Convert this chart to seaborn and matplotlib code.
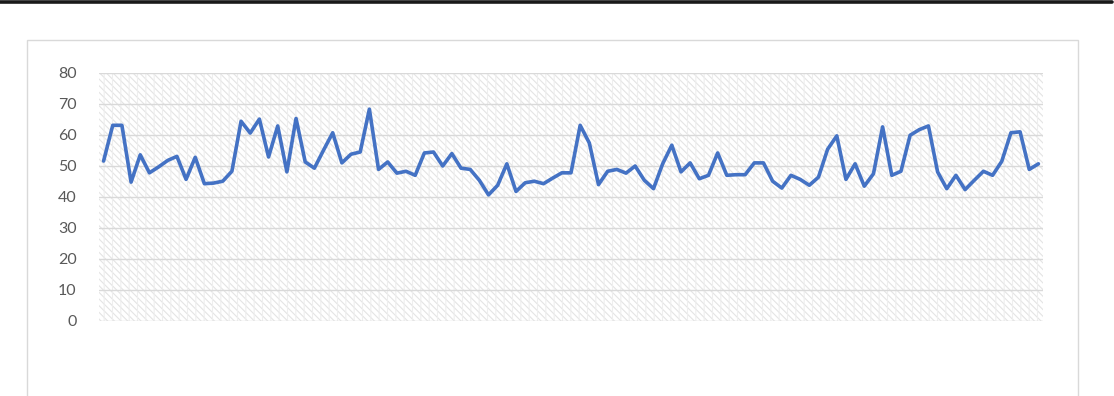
import matplotlib
matplotlib.use("Agg")
import matplotlib.pyplot as plt
import matplotlib.patches as mpatches
from matplotlib.lines import Line2D
import numpy as np
import pandas as pd
import seaborn as sns

# Series values, one per period
values = [
    51.5, 63.0, 63.0, 44.7, 53.5, 47.7, 49.6, 51.7, 53.0, 45.6,
    52.7, 44.2, 44.4, 45.0, 48.2, 64.3, 60.5, 65.0, 52.8, 62.8,
    48.0, 65.2, 51.2, 49.2, 55.0, 60.6, 50.9, 53.7, 54.4, 68.2,
    48.8, 51.2, 47.6, 48.2, 46.9, 54.1, 54.4, 49.9, 53.9, 49.2,
    48.8, 45.3, 40.6, 43.7, 50.6, 41.7, 44.5, 45.0, 44.2, 46.0,
    47.7, 47.7, 63.0, 57.3, 43.9, 48.2, 48.8, 47.6, 49.9, 45.3,
    42.6, 50.6, 56.6, 48.0, 50.9, 45.8, 46.9, 54.1, 46.9, 47.1,
    47.1, 50.9, 50.9, 45.0, 42.8, 46.9, 45.6, 43.7, 46.3, 55.3,
    59.6, 45.6, 50.6, 43.4, 47.4, 62.5, 46.9, 48.2, 59.8, 61.6,
    62.8, 48.0, 42.6, 46.9, 42.3, 45.3, 48.2, 46.9, 51.4, 60.6,
    60.9, 48.8, 50.6,
]
periods = list(range(1, len(values) + 1))
y_ticks = [0, 10, 20, 30, 40, 50, 60, 70, 80]

df = pd.DataFrame({"period": periods, "value": values})
df["pos"] = np.arange(len(df))

sns.set_theme(style="white")
plt.rcParams["font.family"] = ["Lato", "DejaVu Sans"]
plt.rcParams["hatch.linewidth"] = 0.8

W, H = 1114, 396
fig = plt.figure(figsize=(W / 100, H / 100), dpi=100)

# dark rule along the top edge
fig.add_artist(Line2D([0, 1112 / W], [1 - 1.5 / H, 1 - 1.5 / H],
                      transform=fig.transFigure, color="#1a1a1a", lw=2.6))

# chart area frame
fig.add_artist(mpatches.Rectangle((27 / W, -0.05), (1078 - 27) / W, 1 - 40 / H + 0.05,
                                  transform=fig.transFigure, fill=False,
                                  edgecolor="#d9d9d9", lw=1.0))

left, right, top, bottom = 99, 1043, 72.5, 321
ax = fig.add_axes([left / W, 1 - bottom / H, (right - left) / W, (bottom - top) / H])

# patterned plot-area background
ax.add_patch(mpatches.Rectangle((0, 0), 1, 1, transform=ax.transAxes,
                                facecolor="white", edgecolor="#e4e4e4",
                                hatch="\\\\\\\\\\", lw=0, zorder=0))
ax.add_patch(mpatches.Rectangle((0, 0), 1, 1, transform=ax.transAxes,
                                facecolor="none", edgecolor="#eeeeee",
                                hatch="||", lw=0, zorder=0))

for t in y_ticks:
    ax.axhline(t, color="#d9d9d9", lw=1.0, zorder=1)

sns.lineplot(data=df, x="pos", y="value", ax=ax, color="#4472C4",
             linewidth=2.6, zorder=3)

ax.set_xlim(-0.5, len(values) - 0.5)
ax.set_ylim(0, 80)
ax.set_yticks(y_ticks)
ax.set_yticklabels([str(t) for t in y_ticks])
ax.set_xticks([])
ax.set_xlabel("")
ax.set_ylabel("")
ax.tick_params(axis="y", length=0, pad=16, labelsize=11.5, labelcolor="#595959")
for s in ax.spines.values():
    s.set_visible(False)

fig.savefig("out.png", dpi=100)
